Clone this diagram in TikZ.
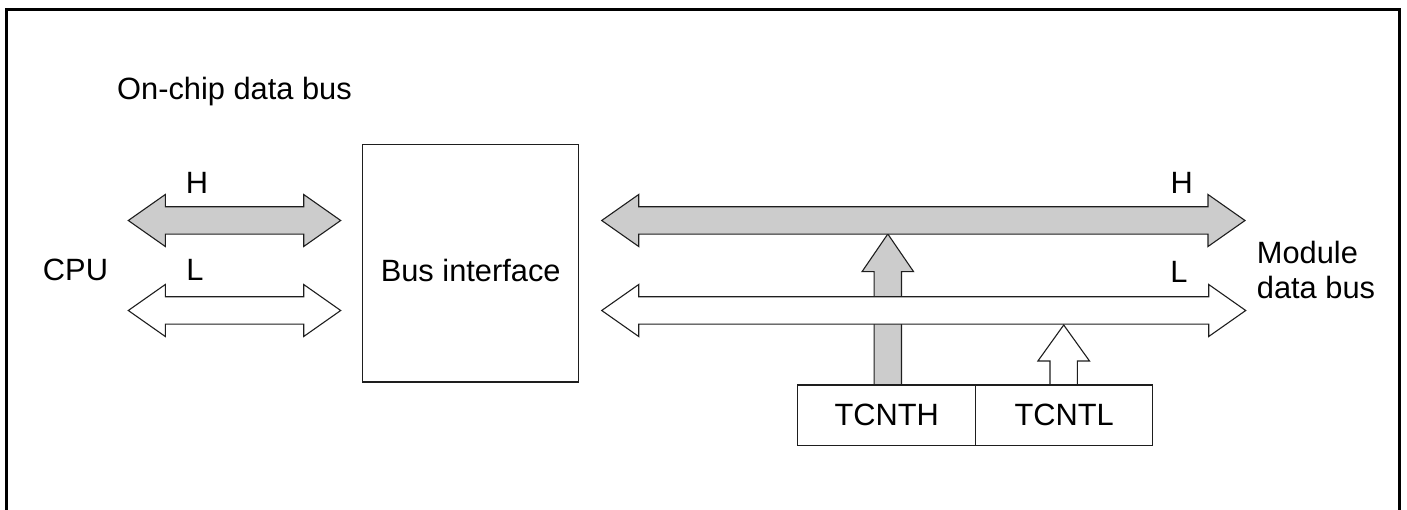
\documentclass[tikz,border=0pt]{standalone}
\usepackage{fontspec}
\setmainfont{Liberation Sans}
\definecolor{busgray}{RGB}{204,204,204}
\definecolor{edge}{RGB}{30,30,30}
\tikzset{
  x=1pt, y=-1pt,
  txt/.style={font=\fontsize{30.8}{36}\selectfont, inner sep=0pt},
  regbox/.style={draw=edge, line width=1.5pt, inner sep=0pt},
  busshape/.style={draw=edge, line width=1.1pt, line join=miter},
  frameline/.style={draw=black, line width=2.2pt}
}
% horizontal double bus arrow: #1 left tip x, #2 right tip x, #3 centre y, #4 fill
\newcommand{\hbusarrow}[4]{%
  \draw[busshape, fill=#4]
    (#1,#3) -- ({#1+37},{#3-26}) -- ({#1+37},{#3-13.7}) -- ({#2-37},{#3-13.7})
    -- ({#2-37},{#3-26}) -- (#2,#3) -- ({#2-37},{#3+26}) -- ({#2-37},{#3+13.7})
    -- ({#1+37},{#3+13.7}) -- ({#1+37},{#3+26}) -- cycle;}
\begin{document}
\begin{tikzpicture}
\useasboundingbox (0,0) rectangle (1407,510);
% outer frame (open at the bottom)
\draw[frameline] (6.5,510) -- (6.5,9.5) -- (1399.5,9.5) -- (1399.5,510);

\node[txt, anchor=base west] (title) at (117,100) {On-chip data bus};

% bus interface
\node[regbox, minimum width=216pt, minimum height=237.7pt] (bif) at (470.7,263.2) {};
\node[txt] (biftext) at (470.7,270) {Bus interface};

% CPU side buses
\hbusarrow{128.3}{340.7}{220.5}{busgray}
\hbusarrow{128.3}{340.7}{310.5}{white}
\node[txt] (cpu) at (75.5,270) {CPU};
\node[txt] (lh) at (197,182.5) {H};
\node[txt] (ll) at (195,270) {L};

% module data bus
\draw[busshape, fill=busgray]
  (887.8,234) -- (913.6,271.7) -- (901.5,271.7) -- (901.5,385)
  -- (874.1,385) -- (874.1,271.7) -- (862,271.7) -- cycle;
\hbusarrow{601.7}{1245}{220.5}{busgray}
\hbusarrow{601.7}{1245.7}{310.5}{white}
\draw[busshape, fill=white]
  (1063.7,325) -- (1089.5,361) -- (1077.4,361) -- (1077.4,385)
  -- (1050,385) -- (1050,361) -- (1037.9,361) -- cycle;

% registers
\node[regbox, minimum width=178pt, minimum height=60.7pt] (tcnth) at (886.7,415.3) {};
\node[txt] (tcnthtext) at (886.7,415) {TCNTH};
\node[regbox, minimum width=177pt, minimum height=60.7pt] (tcntl) at (1064.2,415.3) {};
\node[txt] (tcntltext) at (1064.2,415) {TCNTL};

\node[txt] (rh) at (1181.7,182.5) {H};
\node[txt] (rl) at (1179,272) {L};
\node[txt, anchor=base west] (mod1) at (1256.7,263.3) {Module};
\node[txt, anchor=base west] (mod2) at (1256.7,298.3) {data bus};
\end{tikzpicture}
\end{document}
